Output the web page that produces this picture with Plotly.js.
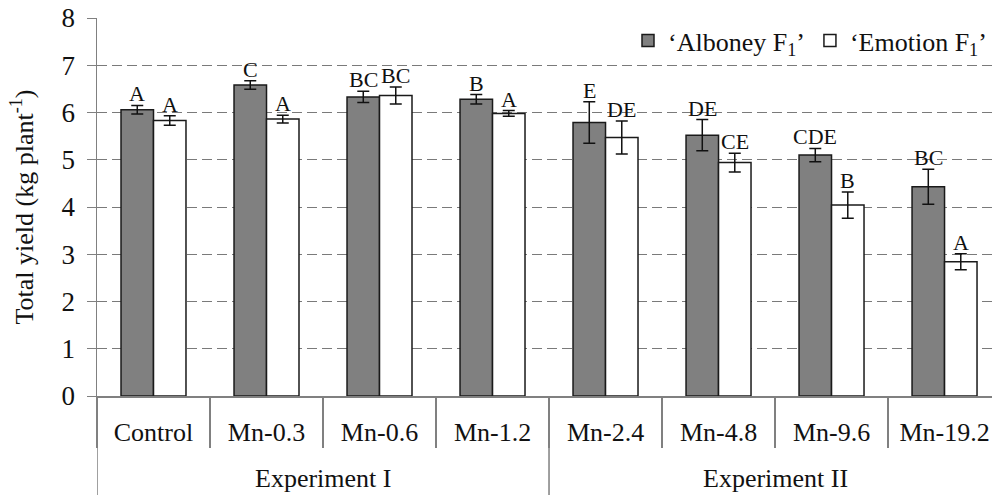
<!DOCTYPE html>
<html>
<head>
<meta charset="utf-8">
<script src="https://cdn.plot.ly/plotly-3.0.1.min.js"></script>
</head>
<body style="margin:0">
<div id="chart" style="width:992px;height:495px"></div>
<script>
const categories = ['Control', 'Mn-0.3', 'Mn-0.6', 'Mn-1.2', 'Mn-2.4', 'Mn-4.8', 'Mn-9.6', 'Mn-19.2'];
const groups = ['Experiment I', 'Experiment I', 'Experiment I', 'Experiment I',
                'Experiment II', 'Experiment II', 'Experiment II', 'Experiment II'];
const alboney = [6.06, 6.58, 6.33, 6.28, 5.79, 5.52, 5.10, 4.43];
const alboneyErr = [0.09, 0.09, 0.12, 0.10, 0.44, 0.33, 0.14, 0.37];
const emotion = [5.83, 5.86, 6.36, 5.98, 5.47, 4.94, 4.04, 2.84];
const emotionErr = [0.10, 0.08, 0.18, 0.06, 0.35, 0.20, 0.28, 0.17];
const alboneyLetters = ['A', 'C', 'BC', 'B', 'E', 'DE', 'CDE', 'BC'];
const emotionLetters = ['A', 'A', 'BC', 'A', 'DE', 'CE', 'B', 'A'];
const seriesNames = ['\u2018Alboney F<sub>1</sub>\u2019', '\u2018Emotion F<sub>1</sub>\u2019'];
const yTitle = 'Total yield (kg plant<sup>-1</sup>)';

const FONT = 'Liberation Serif';
const INK = '#111';
const AXC = '#808080';
const bargap = 0.425;
const off = (1 - bargap) / 4;

const errStyle = (arr) => ({ type: 'data', array: arr, visible: true, color: INK, thickness: 1.5, width: 6 });

const traces = [
  {
    type: 'bar', name: seriesNames[0], x: categories, y: alboney,
    marker: { color: '#808080', line: { color: '#1a1a1a', width: 1.5 } },
    error_y: errStyle(alboneyErr)
  },
  {
    type: 'bar', name: seriesNames[1], x: categories, y: emotion,
    marker: { color: '#ffffff', line: { color: '#1a1a1a', width: 1.5 } },
    error_y: errStyle(emotionErr)
  }
];

const annotations = [];
categories.forEach((c, i) => {
  annotations.push({ x: i - off, y: alboney[i] + alboneyErr[i], xref: 'x', yref: 'y', text: alboneyLetters[i],
    showarrow: false, yanchor: 'bottom', xanchor: 'center', yshift: -3, font: { family: FONT, size: 22, color: INK } });
  annotations.push({ x: i + off, y: emotion[i] + emotionErr[i], xref: 'x', yref: 'y', text: emotionLetters[i],
    showarrow: false, yanchor: 'bottom', xanchor: 'center', yshift: -3, font: { family: FONT, size: 22, color: INK } });
});

// group labels and dividers below the category labels
const shapes = [];
const groupNames = [...new Set(groups)];
groupNames.forEach(g => {
  const first = groups.indexOf(g);
  const last = groups.lastIndexOf(g);
  annotations.push({ x: (first + last) / 2, y: -0.217, xref: 'x', yref: 'paper', text: g,
    showarrow: false, xanchor: 'center', yanchor: 'middle', font: { family: FONT, size: 26, color: INK } });
  shapes.push({ type: 'line', xref: 'x', yref: 'paper', x0: first - 0.5, x1: first - 0.5, y0: 0, y1: -0.3,
    line: { color: AXC, width: 1.5 } });
});

const layout = {
  width: 992, height: 495,
  margin: { l: 97, r: 0, t: 18, b: 99 },
  paper_bgcolor: '#fff', plot_bgcolor: '#fff',
  font: { family: FONT, size: 26, color: INK },
  barmode: 'group', bargap: bargap, bargroupgap: 0,
  showlegend: true,
  legend: {
    orientation: 'h', x: 1, xanchor: 'right', y: 0.94, yanchor: 'middle',
    bgcolor: '#fff', font: { family: FONT, size: 26, color: INK },
    itemwidth: 30, tracegroupgap: 0
  },
  xaxis: {
    type: 'category', range: [-0.5, 7.42],
    showline: true, linecolor: AXC, linewidth: 1.5,
    ticks: 'outside', tickson: 'boundaries', ticklen: 50, tickcolor: AXC, tickwidth: 1.5,
    ticklabelstandoff: 12,
    tickfont: { family: FONT, size: 26, color: INK },
    showgrid: false, zeroline: false
  },
  yaxis: {
    range: [0, 8], dtick: 1, tick0: 0,
    showline: true, linecolor: AXC, linewidth: 1.5,
    ticks: 'outside', ticklen: 9, tickcolor: AXC, tickwidth: 1,
    ticklabelstandoff: 6,
    showgrid: true, gridcolor: '#7a7a7a', gridwidth: 1, griddash: '10px,5px',
    zeroline: false,
    tickfont: { family: FONT, size: 27, color: INK },
    title: { text: yTitle, font: { family: FONT, size: 26, color: INK }, standoff: 20 }
  },
  shapes: shapes,
  annotations: annotations
};

Plotly.newPlot('chart', traces, layout, { displayModeBar: false, staticPlot: true });
</script>
</body>
</html>
